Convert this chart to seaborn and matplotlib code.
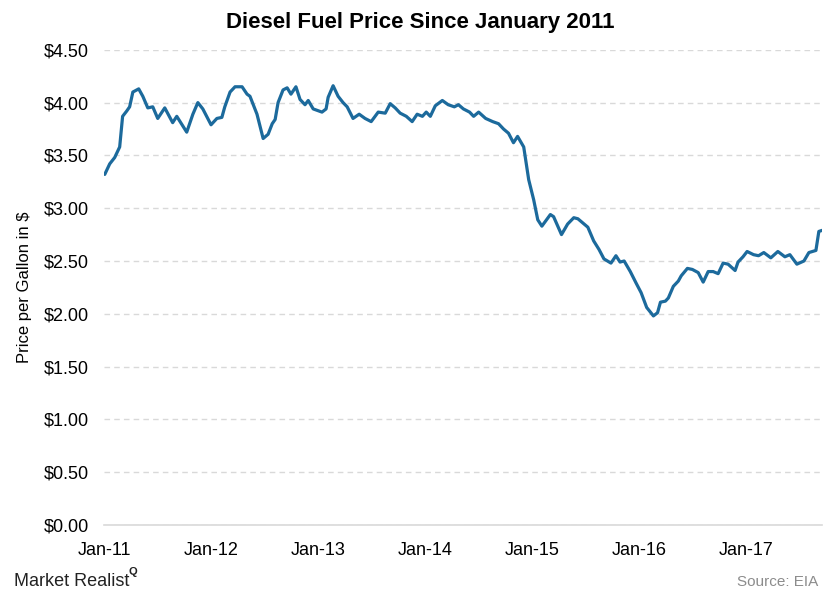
import pandas as pd
import seaborn as sns
import matplotlib.pyplot as plt
import matplotlib.dates as mdates
from matplotlib.ticker import FuncFormatter, MultipleLocator

# Weekly diesel price (dates approximate)
dates = [
    "2011-01-03", "2011-01-20", "2011-02-06", "2011-02-23", "2011-03-05", "2011-03-19",
    "2011-03-29", "2011-04-09", "2011-04-29", "2011-05-13", "2011-05-30", "2011-06-16",
    "2011-07-03", "2011-07-27", "2011-08-23", "2011-09-06", "2011-10-10", "2011-10-21",
    "2011-10-31", "2011-11-17", "2011-12-04", "2012-01-01", "2012-01-21", "2012-02-07",
    "2012-02-17", "2012-03-06", "2012-03-23", "2012-04-16", "2012-05-03", "2012-05-13",
    "2012-06-06", "2012-06-27", "2012-07-14", "2012-07-28", "2012-08-07", "2012-08-17",
    "2012-09-03", "2012-09-17", "2012-09-30", "2012-10-17", "2012-10-31", "2012-11-17",
    "2012-11-28", "2012-12-15", "2013-01-14", "2013-01-28", "2013-02-04", "2013-02-21",
    "2013-03-10", "2013-03-27", "2013-04-10", "2013-04-30", "2013-05-21", "2013-06-10",
    "2013-07-01", "2013-07-25", "2013-08-18", "2013-09-04", "2013-09-21", "2013-10-08",
    "2013-10-29", "2013-11-18", "2013-12-05", "2013-12-23", "2014-01-05", "2014-01-19",
    "2014-02-05", "2014-03-01", "2014-03-21", "2014-04-11", "2014-04-25", "2014-05-12",
    "2014-06-02", "2014-06-16", "2014-07-03", "2014-07-27", "2014-08-20", "2014-09-09",
    "2014-09-26", "2014-10-13", "2014-10-30", "2014-11-13", "2014-12-04", "2014-12-21",
    "2015-01-07", "2015-01-21", "2015-02-04", "2015-03-05", "2015-03-16", "2015-04-12",
    "2015-05-03", "2015-05-24", "2015-06-07", "2015-06-24", "2015-07-11", "2015-07-31",
    "2015-08-18", "2015-09-04", "2015-09-28", "2015-10-15", "2015-10-29", "2015-11-12",
    "2015-12-03", "2015-12-23", "2016-01-09", "2016-01-28", "2016-02-20", "2016-03-05",
    "2016-03-15", "2016-04-01", "2016-04-11", "2016-04-28", "2016-05-15", "2016-05-25",
    "2016-06-15", "2016-07-02", "2016-07-22", "2016-08-08", "2016-08-25", "2016-09-11",
    "2016-09-28", "2016-10-15", "2016-11-01", "2016-11-25", "2016-12-05", "2016-12-22",
    "2017-01-05", "2017-01-27", "2017-02-13", "2017-03-03", "2017-03-27", "2017-04-20",
    "2017-05-14", "2017-05-31", "2017-06-24", "2017-07-18", "2017-08-04", "2017-08-28",
    "2017-09-07", "2017-09-18",
]
prices = [
    3.32, 3.42, 3.48, 3.58, 3.87, 3.92,
    3.96, 4.10, 4.13, 4.06, 3.95, 3.96,
    3.85, 3.95, 3.81, 3.87, 3.72, 3.81,
    3.89, 4.00, 3.94, 3.79, 3.85, 3.86,
    3.96, 4.10, 4.15, 4.15, 4.08, 4.06,
    3.89, 3.66, 3.70, 3.80, 3.84, 4.00,
    4.12, 4.14, 4.08, 4.15, 4.03, 3.98,
    4.02, 3.94, 3.91, 3.94, 4.05, 4.16,
    4.06, 4.00, 3.96, 3.85, 3.89, 3.85,
    3.82, 3.91, 3.90, 3.99, 3.95, 3.90,
    3.87, 3.82, 3.89, 3.87, 3.91, 3.87,
    3.97, 4.02, 3.98, 3.96, 3.98, 3.94,
    3.91, 3.87, 3.91, 3.85, 3.82, 3.80,
    3.75, 3.71, 3.62, 3.68, 3.58, 3.27,
    3.08, 2.89, 2.83, 2.94, 2.92, 2.75,
    2.85, 2.91, 2.90, 2.86, 2.82, 2.69,
    2.61, 2.52, 2.48, 2.55, 2.49, 2.50,
    2.40, 2.29, 2.20, 2.06, 1.98, 2.01,
    2.11, 2.12, 2.15, 2.26, 2.31, 2.36,
    2.43, 2.42, 2.39, 2.30, 2.40, 2.40,
    2.38, 2.48, 2.47, 2.41, 2.49, 2.54,
    2.59, 2.56, 2.55, 2.58, 2.53, 2.59,
    2.54, 2.56, 2.47, 2.50, 2.58, 2.60,
    2.78, 2.79,
]

df = pd.DataFrame({"date": pd.to_datetime(dates), "price": prices})

sns.set_style("white")
plt.rcParams["font.family"] = ["Liberation Sans", "DejaVu Sans"]
plt.rcParams["text.color"] = "black"
plt.rcParams["axes.labelcolor"] = "black"
plt.rcParams["xtick.labelcolor"] = "black"
plt.rcParams["ytick.labelcolor"] = "black"

fig = plt.figure(figsize=(8.4, 6.0), dpi=100)
ax = fig.add_axes([0.124, 0.125, 0.855, 0.792])

sns.lineplot(data=df, x="date", y="price", ax=ax, color="#1c6a9c", linewidth=2.3)

ax.set_xlim(pd.Timestamp("2011-01-01"), pd.Timestamp("2017-09-19"))
ax.set_ylim(0, 4.5)
ax.yaxis.set_major_locator(MultipleLocator(0.5))
ax.yaxis.set_major_formatter(FuncFormatter(lambda v, p: f"${v:.2f}"))
ax.xaxis.set_major_locator(mdates.YearLocator())
ax.xaxis.set_major_formatter(mdates.DateFormatter("%b-%y"))

ax.grid(axis="y", color="#d9d9d9", linestyle=(0, (4, 3)), linewidth=1)
ax.set_axisbelow(True)
for side in ["top", "right", "left"]:
    ax.spines[side].set_visible(False)
ax.spines["bottom"].set_color("#d9d9d9")
ax.spines["bottom"].set_linewidth(1.2)

ax.tick_params(axis="x", length=6, color="#d9d9d9", labelsize=13, pad=6, labelcolor="black")
ax.tick_params(axis="y", length=0, labelsize=13, pad=11, labelcolor="black")

ax.set_xlabel("")
ax.set_ylabel("Price per Gallon in $", fontsize=12, color="black")
ax.yaxis.set_label_coords(-0.101, 0.5)

fig.text(0.5, 0.963, "Diesel Fuel Price Since January 2011", ha="center", va="center",
         fontsize=16, fontweight="bold", color="black")
fig.text(0.017, 0.030, "Market Realist", ha="left", va="center", fontsize=13,
         color="#222222")
fig.text(0.153, 0.047, "Q", ha="left", va="center", fontsize=8, fontweight="bold",
         color="#222222")
fig.text(0.974, 0.030, "Source: EIA", ha="right", va="center", fontsize=11,
         color="#8c8c8c")

fig.savefig("out.png", dpi=100)
